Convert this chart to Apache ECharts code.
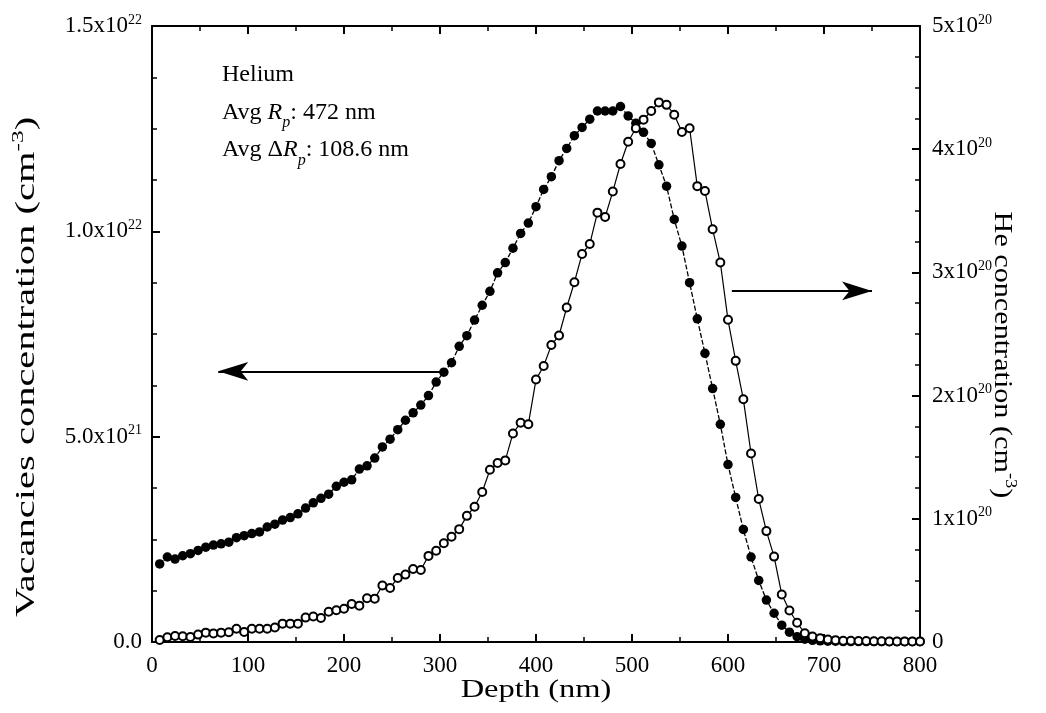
<!DOCTYPE html>
<html>
<head>
<meta charset="utf-8">
<script src="https://cdn.jsdelivr.net/npm/echarts@6/dist/echarts.min.js"></script>
<style>html,body{margin:0;padding:0;background:#fff;}#c{width:1046px;height:713px;}</style>
</head>
<body>
<div id="c"></div>
<script>
// Depth (nm)
const depth = [8,16,24,32,40,48,56,64,72,80,88,96,104,112,120,128,136,144,152,160,
  168,176,184,192,200,208,216,224,232,240,248,256,264,272,280,288,296,304,312,320,
  328,336,344,352,360,368,376,384,392,400,408,416,424,432,440,448,456,464,472,480,
  488,496,504,512,520,528,536,544,552,560,568,576,584,592,600,608,616,624,632,640,
  648,656,664,672,680,688,696,704,712,720,728,736,744,752,760,768,776,784,792,800];
// Vacancies concentration, units of 1e21 cm^-3 (left axis)
const vacancies = [1.90,2.07,2.02,2.10,2.15,2.23,2.31,2.36,2.39,2.43,
  2.54,2.59,2.64,2.68,2.80,2.87,2.97,3.03,3.12,3.26,
  3.39,3.50,3.60,3.79,3.89,3.95,4.21,4.29,4.48,4.75,
  4.94,5.17,5.40,5.58,5.77,6.00,6.33,6.57,6.80,7.20,
  7.46,7.84,8.20,8.54,8.99,9.24,9.59,9.95,10.20,10.60,
  11.02,11.33,11.72,12.02,12.33,12.53,12.73,12.93,12.93,12.93,
  13.04,12.81,12.63,12.41,12.14,11.62,11.10,10.29,9.64,8.75,
  7.87,7.03,6.17,5.30,4.32,3.52,2.74,2.07,1.50,1.02,
  0.70,0.41,0.24,0.13,0.07,0.04,0.03,0.02,0.02,0.01,
  0.01,0.01,0.01,0.01,0.01,0.01,0.01,0.01,0.01,0.01];
// He concentration, units of 1e20 cm^-3 (right axis)
const helium = [0.016,0.038,0.049,0.046,0.040,0.060,0.076,0.070,0.076,0.079,
  0.108,0.081,0.108,0.108,0.108,0.117,0.149,0.149,0.149,0.198,
  0.207,0.195,0.246,0.257,0.270,0.309,0.295,0.355,0.352,0.458,
  0.439,0.520,0.547,0.593,0.585,0.699,0.740,0.802,0.854,0.916,
  1.024,1.098,1.217,1.398,1.453,1.474,1.693,1.780,1.767,2.130,
  2.240,2.410,2.488,2.715,2.920,3.150,3.230,3.485,3.450,3.656,
  3.880,4.060,4.170,4.240,4.310,4.380,4.360,4.280,4.140,4.170,
  3.700,3.660,3.350,3.080,2.615,2.282,1.970,1.530,1.160,0.900,
  0.693,0.386,0.256,0.156,0.071,0.045,0.030,0.020,0.015,0.010,
  0.010,0.008,0.008,0.006,0.006,0.005,0.005,0.005,0.005,0.005];
// tick labels
const xTicks = [0,100,200,300,400,500,600,700,800];
const leftTickValues = [0,5,10,15];
const leftTickLabels = ['0.0','5.0x10^21','1.0x10^22','1.5x10^22'];
const rightTickValues = [0,1,2,3,4,5];
const rightTickLabels = ['0','1x10^20','2x10^20','3x10^20','4x10^20','5x10^20'];
// arrows (data coordinates)
const leftArrow = {from:[308,6.59], to:[69,6.59]};
const rightArrow = {from:[604,2.85], to:[750,2.85]};

const FONT = "'Liberation Serif','Times New Roman',serif";
function supFmt(lbl){
  const p = lbl.split('^');
  return p.length>1 ? '{b|'+p[0]+'}{s|'+p[1]+'}' : '{b|'+p[0]+'}';
}
function mkLabelFmt(vals, labels){
  return function(v){
    for (let i=0;i<vals.length;i++){ if (Math.abs(vals[i]-v)<1e-9) return supFmt(labels[i]); }
    return '';
  };
}
const tickRich = {
  b:{fontFamily:FONT,fontSize:23,color:'#000',lineHeight:26},
  s:{fontFamily:FONT,fontSize:14,color:'#000',verticalAlign:'top',lineHeight:26}
};
const axisLine = {show:true,onZero:false,lineStyle:{color:'#000',width:2}};
const tick = {show:true,inside:true,length:8,lineStyle:{color:'#000',width:2}};
const minorTick = {show:true,length:5,lineStyle:{color:'#000',width:1.5}};

function titleText(txt, size, x, y, rot, stretch){
  return {
    type:'text', x:x, y:y, rotation:rot, scaleX:stretch, scaleY:1, silent:true,
    style:{
      text:txt, align:'center', verticalAlign:'middle',
      rich:{
        b:{fontFamily:FONT,fontSize:size,fill:'#000',lineHeight:size+6},
        s:{fontFamily:FONT,fontSize:Math.round(size*0.62),fill:'#000',verticalAlign:'top',lineHeight:size+6}
      }
    }
  };
}

const chart = echarts.init(document.getElementById('c'));
chart.setOption({
  animation:false,
  backgroundColor:'#fff',
  grid:{left:152,right:126,top:26,bottom:71,containLabel:false},
  xAxis:[{
    type:'value',min:0,max:800,interval:100,position:'bottom',
    axisLine:axisLine,axisTick:tick,minorTick:Object.assign({splitNumber:2},minorTick),
    splitLine:{show:false},
    axisLabel:{margin:12,fontFamily:FONT,fontSize:23,color:'#000',
      formatter:function(v){return xTicks.indexOf(v)>=0?String(v):'';}}
  },{
    type:'value',min:0,max:800,interval:100,position:'top',
    axisLine:axisLine,axisTick:tick,minorTick:Object.assign({splitNumber:2},minorTick),
    splitLine:{show:false},axisLabel:{show:false}
  }],
  yAxis:[{
    type:'value',min:0,max:15,interval:5,position:'left',
    axisLine:axisLine,axisTick:tick,minorTick:Object.assign({splitNumber:4},minorTick),
    splitLine:{show:false},
    axisLabel:{margin:10,formatter:mkLabelFmt(leftTickValues,leftTickLabels),rich:tickRich}
  },{
    type:'value',min:0,max:5,interval:1,position:'right',
    axisLine:axisLine,axisTick:tick,minorTick:Object.assign({splitNumber:4},minorTick),
    splitLine:{show:false},
    axisLabel:{margin:12,formatter:mkLabelFmt(rightTickValues,rightTickLabels),rich:tickRich}
  }],
  series:[{
    type:'line',name:'Vacancies',xAxisIndex:0,yAxisIndex:0,
    data:depth.map((d,i)=>[d,vacancies[i]]),
    symbol:'circle',symbolSize:9.5,
    itemStyle:{color:'#000'},
    lineStyle:{color:'#000',width:1.3,type:[5,2]},
    silent:true,
    markLine:{silent:true,symbol:['none','arrow'],symbolSize:[14,30],
      label:{show:false},lineStyle:{color:'#000',width:2,type:'solid'},
      data:[[{coord:leftArrow.from},{coord:leftArrow.to}]]}
  },{
    type:'line',name:'He',xAxisIndex:0,yAxisIndex:1,
    data:depth.map((d,i)=>[d,helium[i]]),
    symbol:'emptyCircle',symbolSize:8,
    itemStyle:{color:'#000',borderColor:'#000',borderWidth:1.3},
    lineStyle:{color:'#000',width:1.2},
    silent:true,
    markLine:{silent:true,symbol:['none','arrow'],symbolSize:[14,30],
      label:{show:false},lineStyle:{color:'#000',width:2,type:'solid'},
      data:[[{coord:rightArrow.from},{coord:rightArrow.to}]]}
  }],
  graphic:[
    titleText('{b|Vacancies concentration (cm}{s|-3}{b|)}', 27, 27, 367, Math.PI/2, 1.5),
    titleText('{b|He concentration (cm}{s|-3}{b|)}', 26, 1002, 355, -Math.PI/2, 1.16),
    titleText('{b|Depth (nm)}', 26, 536, 690, 0, 1.25),
    {
    type:'text',left:222,top:63,silent:true,
    style:{
      text:'{n|Helium}\n{n|Avg }{i|R}{p|p}{n|: 472 nm}\n{n|Avg Δ}{i|R}{p|p}{n|: 108.6 nm}',
      rich:{
        n:{fontFamily:FONT,fontSize:24,fill:'#000',lineHeight:37.5},
        i:{fontFamily:FONT,fontSize:24,fontStyle:'italic',fill:'#000',lineHeight:37.5},
        p:{fontFamily:FONT,fontSize:16,fontStyle:'italic',fill:'#000',verticalAlign:'bottom',lineHeight:37.5}
      }
    }
  }]
});
</script>
</body>
</html>
